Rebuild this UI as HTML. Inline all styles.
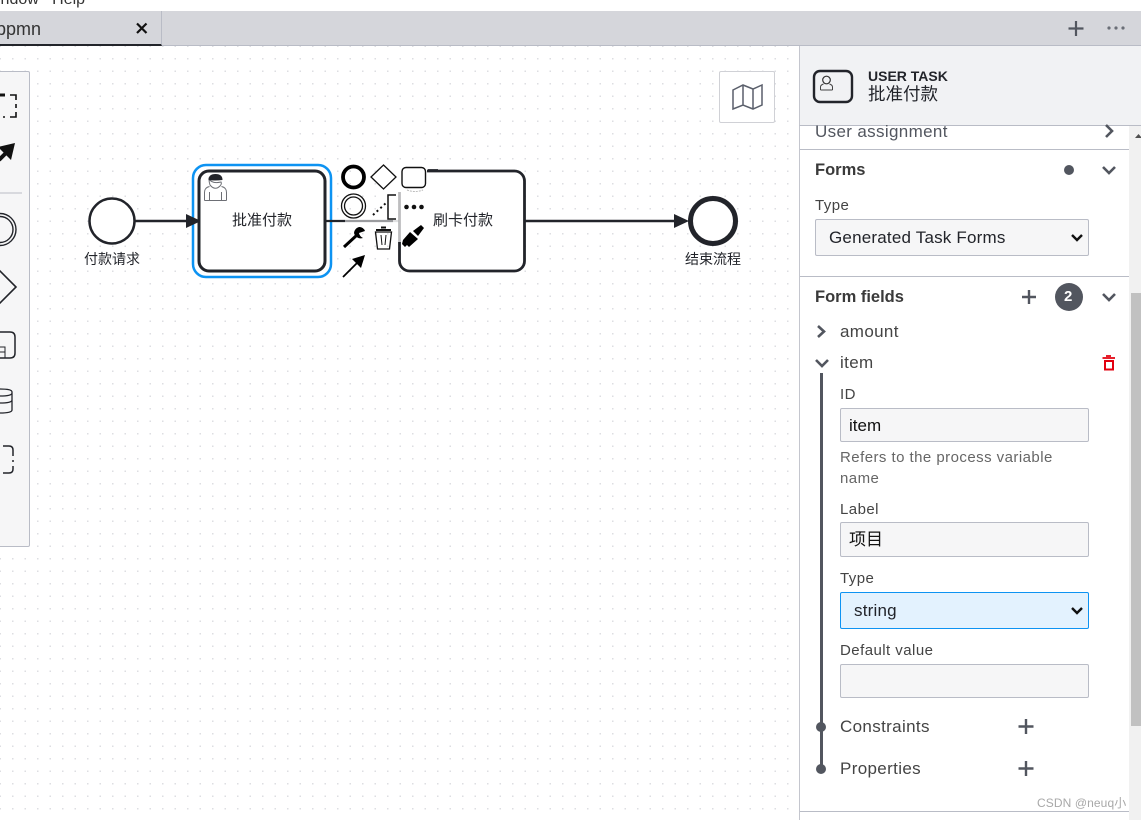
<!DOCTYPE html>
<html><head><meta charset="utf-8">
<style>
html,body{margin:0;padding:0;background:#fff}
#p{position:relative;width:1141px;height:820px;overflow:hidden;background:#fff;font-family:"Liberation Sans","Noto Sans CJK SC",sans-serif;color:#22242a}
.t{position:absolute;white-space:nowrap;line-height:1}
.l{font-size:15px;letter-spacing:.45px;color:#444}
.f{font-size:17px;letter-spacing:.35px;color:#444}
.b{position:absolute;box-sizing:border-box}
.inp{position:absolute;box-sizing:border-box;left:840px;width:249px;background:#f6f6f7;border:1px solid #b9bcc6;border-radius:2px}
svg{position:absolute;left:0;top:0}
</style></head><body><div id="p">
<div class="t" style="left:-3px;top:-8px;font-size:16px;color:#333">indow&nbsp;&nbsp;&nbsp;Help</div>
<div class="b" style="left:0;top:11px;width:1141px;height:35px;background:#d5d6db;border-bottom:1px solid #b9bcc6"></div>
<div class="b" style="left:0;top:11px;width:162px;height:35px;background:#d5d6db;border-right:1px solid #b9bcc6;border-bottom:2px solid #22242a"></div>
<div class="t" style="left:-9px;top:20px;font-size:18px;color:#333">.bpmn</div>
<div class="b" style="left:0;top:46px;width:800px;height:774px;background-color:#fff;background-image:radial-gradient(circle at 0.75px 0.75px,#dddee2 0.7px,transparent 1px);background-size:12.5px 12.5px;background-position:12px 49.5px"></div>
<div class="b" style="left:-5px;top:71px;width:35px;height:476px;background:#f6f6f7;border:1px solid #b9bcc6;border-radius:2px"></div>
<div class="b" style="left:719px;top:71px;width:56px;height:52px;background:#fff;border:1px solid #d0d1d6;border-radius:2px"></div>
<div class="b" style="left:799px;top:46px;width:342px;height:774px;background:#fff;border-left:1px solid #c4c6ce"></div>
<div class="b" style="left:799px;top:46px;width:342px;height:80px;background:#f1f2f4;border-bottom:1px solid #b9bcc6;border-left:1px solid #c4c6ce"></div>
<div class="b" style="left:1129px;top:126px;width:12px;height:694px;background:#f1f1f1"></div>
<div class="b" style="left:1131px;top:293px;width:10px;height:433px;background:#c1c1c1"></div>
<div class="b" style="left:800px;top:149px;width:329px;height:1px;background:#b9bcc6"></div>
<div class="b" style="left:800px;top:276px;width:329px;height:1px;background:#b9bcc6"></div>
<div class="b" style="left:800px;top:811px;width:329px;height:1px;background:#b9bcc6"></div>

<div class="inp" style="left:815px;top:219px;width:274px;height:37px"></div>
<div class="inp" style="top:408px;height:34px"></div>
<div class="inp" style="top:522px;height:35px"></div>
<div class="inp" style="top:592px;height:37px;background:#e3f2fe;border-color:#0d93f2"></div>
<div class="inp" style="top:664px;height:34px"></div>

<svg width="1141" height="820" viewBox="0 0 1141 820" fill="none" stroke-linecap="butt">
<!-- tab controls -->
<path d="M137 23.500l9.500 9.500M146.500 23.500l-9.500 9.500" stroke="#111" stroke-width="2.200"/>
<path d="M1076 21v15M1068.500 28.500h15" stroke="#52565f" stroke-width="2.200"/>
<g fill="#6a6e77"><circle cx="1109" cy="28" r="1.600"/><circle cx="1116" cy="28" r="1.600"/><circle cx="1123" cy="28" r="1.600"/></g>
<!-- palette fragments -->
<path d="M0 95h5" stroke="#111" stroke-width="3"/>
<path d="M10 95h6v5M16 104v4M16 112v5h-6M3 117h2" stroke="#111" stroke-width="1.600"/>
<path d="M-1 160l9-9" stroke="#111" stroke-width="4"/><path d="M15 143l-4 17-13-13z" fill="#111"/>
<path d="M0 193h22" stroke="#b9bcc6"/>
<circle cx="0" cy="229.500" r="16" stroke="#22242a" stroke-width="1.400"/><circle cx="0" cy="229.500" r="13" stroke="#22242a" stroke-width="1.400"/>
<path d="M-1 270l17 17-17 17" stroke="#22242a" stroke-width="1.600"/>
<path d="M0 332h10q5 0 5 5v16q0 5-5 5h-10" stroke="#22242a" stroke-width="1.500"/>
<path d="M0 347h5v11M0 352h5" stroke="#22242a"/>
<path d="M0 389q12 0 12 3v18q0 3-12 3M0 396q12 0 12-3M0 403q12 0 12-3" stroke="#22242a" stroke-width="1.300"/>
<path d="M3 446h6q4 0 4 4v6M13 460v2M13 466v3q0 4-4 4h-6" stroke="#22242a" stroke-width="1.500"/>
<!-- minimap -->
<path d="M733 90l10-5 10 4 9-4v20l-9 4-10-4-10 4zM743 85v20M753 89v20" stroke="#5a5f6b" stroke-width="1.500"/>
<!-- process -->
<circle cx="112" cy="221" r="22.500" fill="#fff" stroke="#22242a" stroke-width="2.500"/>
<path d="M135 221h54" stroke="#22242a" stroke-width="2.600"/>
<rect x="193" y="165" width="138" height="112" rx="13" fill="#fff" stroke="#0d93f2" stroke-width="2.500"/>
<path d="M186 214l15 7-15 7z" fill="#22242a"/>
<rect x="199" y="171" width="126" height="100" rx="10" fill="#fff" stroke="#22242a" stroke-width="3"/>
<path d="M325 221h75" stroke="#22242a" stroke-width="2.200"/>
<rect x="399.500" y="171" width="125" height="100" rx="10" fill="#fff" stroke="#22242a" stroke-width="2.800"/>
<path d="M525 221h152" stroke="#22242a" stroke-width="2.600"/><path d="M674 214l15 7-15 7z" fill="#22242a"/>
<circle cx="713" cy="221" r="22.500" fill="#fff" stroke="#22242a" stroke-width="5"/>
<!-- user icon -->
<g stroke="#6d6f75" stroke-width="1"><path d="M204.500 200.500v-8q0-5 5-6M226.500 200.500v-8q0-5-5-6M204.500 200.500h22M209.500 192v8.500M221.500 192v8.500"/>
<path d="M210 185q-1-3-1-6 3 5 12 3 1 2-1 4-5 5-10-1z" fill="#fff"/></g>
<path d="M208.500 180q0-6 7-6t7 6q-8 1-14 0z" fill="#22242a"/>
<!-- context pad -->
<rect x="393" y="164" width="34" height="28" fill="#fff"/>
<rect x="393" y="192" width="16" height="50" fill="#fff" opacity=".7"/>
<rect x="345" y="216" width="53" height="9" fill="#fff" opacity=".55"/>
<circle cx="353.500" cy="177" r="10.500" stroke="#000" stroke-width="3.800"/>
<path d="M383.500 165l12.500 12-12.500 12-12.500-12z" stroke="#111" stroke-width="1.300" fill="#fff"/>
<circle cx="353.500" cy="206" r="12" stroke="#111" stroke-width="1.300"/><circle cx="353.500" cy="206" r="9" stroke="#111" stroke-width="1.300"/>
<path d="M373 215l13-12" stroke="#111" stroke-width="2" stroke-dasharray="2 3"/>
<path d="M396 195h-8v24h8" stroke="#111" stroke-width="1.500"/>
<rect x="402" y="167.500" width="23.500" height="20" rx="4" fill="#fff" stroke="#111" stroke-width="1.400"/>
<path d="M407 190q8 3 16 0" stroke="#bbb" stroke-dasharray="2 1"/>
<path d="M428 170.500h10" stroke="#22242a" stroke-width="2.800"/>
<g fill="#111"><circle cx="406.500" cy="207" r="2.300"/><circle cx="414" cy="207" r="2.300"/><circle cx="421.500" cy="207" r="2.300"/></g>
<path d="M344 247l13-12" stroke="#000" stroke-width="3"/><path d="M354 233a7 7 0 0 0 9 5 7 7 0 0 1-4-5l6-2a6 6 0 0 0-6-4 7 7 0 0 0-5 6z" fill="#000"/>
<path d="M376 230h15M381 227.500h5" stroke="#111" stroke-width="2"/>
<path d="M375.500 232l2 17h12l2-17z" stroke="#111" stroke-width="1.300"/><path d="M381 235l1 10M386 235l-1 10" stroke="#111"/>
<path d="M343 277l15-15" stroke="#000" stroke-width="1.800"/><path d="M365 255l-4 13-9-9z" fill="#000"/>
<path d="M403 240l7-8 8 7-9 8-2-2-2 2-3-3z" fill="#000"/><path d="M413 231l8-6 3 3-6 8z" fill="#000"/>
<!-- panel header icon -->
<rect x="814" y="71" width="38" height="31" rx="6" stroke="#22242a" stroke-width="2.400"/>
<path d="M820.500 90v-3q0-2 3-3M832.500 90v-3q0-2-3-3M820.500 90h12" stroke="#444" /><circle cx="826.500" cy="80" r="3.800" stroke="#333" stroke-width="1.200"/>
<!-- panel chevrons -->
<path d="M1106 125l6 6-6 6" stroke="#52565f" stroke-width="2.600"/>
<path d="M1103 167l6 6 6-6" stroke="#52565f" stroke-width="2.600"/>
<circle cx="1069" cy="170" r="5" fill="#52565f"/>
<path d="M1135 138l3.500-4 3.500 4z" fill="#505050"/>
<path d="M1072 235l5 5 5-5" stroke="#111" stroke-width="2.400"/>
<path d="M1029 290v14M1022 297h14" stroke="#52565f" stroke-width="2.400"/>
<circle cx="1069" cy="297" r="14" fill="#52565f"/>
<path d="M1103 294l6 6 6-6" stroke="#52565f" stroke-width="2.600"/>
<path d="M818 326l6 5.500-6 5.500" stroke="#52565f" stroke-width="2.600"/>
<path d="M816 360l6 6 6-6" stroke="#52565f" stroke-width="2.600"/>
<path d="M1102.500 358h12.500M1106 356h5" stroke="#e2000f" stroke-width="1.800"/><rect x="1105" y="361" width="8" height="8.500" stroke="#e2000f" stroke-width="2"/>
<path d="M821.500 373v397" stroke="#52565f" stroke-width="3"/>
<circle cx="821" cy="727" r="5" fill="#52565f"/><circle cx="821" cy="769" r="5" fill="#52565f"/>
<path d="M1026 719v15M1018.500 726.500h15M1026 761v15M1018.500 768.500h15" stroke="#52565f" stroke-width="2.400"/>
<path d="M1072 608l5 5 5-5" stroke="#111" stroke-width="2.400"/>
</svg>

<div class="t" style="left:84px;top:252px;font-size:14px">付款请求</div>
<div class="t" style="left:232px;top:213px;font-size:15px">批准付款</div>
<div class="t" style="left:433px;top:213px;font-size:15px">刷卡付款</div>
<div class="t" style="left:685px;top:252px;font-size:14px">结束流程</div>

<div class="t" style="left:868px;top:69px;font-size:14px;font-weight:bold;color:#22242a">USER TASK</div>
<div class="t" style="left:868px;top:86px;font-size:17.500px">批准付款</div>
<div class="t f" style="left:815px;top:123px;font-size:17px;letter-spacing:.35px;color:#52565f">User assignment</div>
<div class="t" style="left:815px;top:162px;font-size:16.500px;font-weight:bold;color:#3a3a3a">Forms</div>
<div class="t l" style="left:815px;top:198px">Type</div>
<div class="t" style="left:829px;top:229px;font-size:17px;letter-spacing:.2px;color:#22242a">Generated Task Forms</div>
<div class="t" style="left:815px;top:289px;font-size:16.500px;font-weight:bold;color:#3a3a3a">Form fields</div>
<div class="t" style="left:1064px;top:289px;font-size:15px;font-weight:bold;color:#fff">2</div>
<div class="t f" style="left:840px;top:323px">amount</div>
<div class="t f" style="left:840px;top:354px">item</div>
<div class="t l" style="left:840px;top:387px">ID</div>
<div class="t" style="left:849px;top:417px;font-size:17px;color:#111">item</div>
<div class="t l" style="left:840px;top:450px;color:#666">Refers to the process variable</div>
<div class="t l" style="left:840px;top:471px;color:#666">name</div>
<div class="t l" style="left:840px;top:502px">Label</div>
<div class="t" style="left:849px;top:531px;font-size:17px;color:#111">项目</div>
<div class="t l" style="left:840px;top:571px">Type</div>
<div class="t" style="left:854px;top:602px;font-size:17px;letter-spacing:.2px;color:#22242a">string</div>
<div class="t l" style="left:840px;top:643px">Default value</div>
<div class="t f" style="left:840px;top:718px">Constraints</div>
<div class="t f" style="left:840px;top:760px">Properties</div>
<div class="t" style="left:1037px;top:797px;font-size:12px;letter-spacing:.1px;color:#a8a8a8">CSDN @neuq小</div>
</div></body></html>
